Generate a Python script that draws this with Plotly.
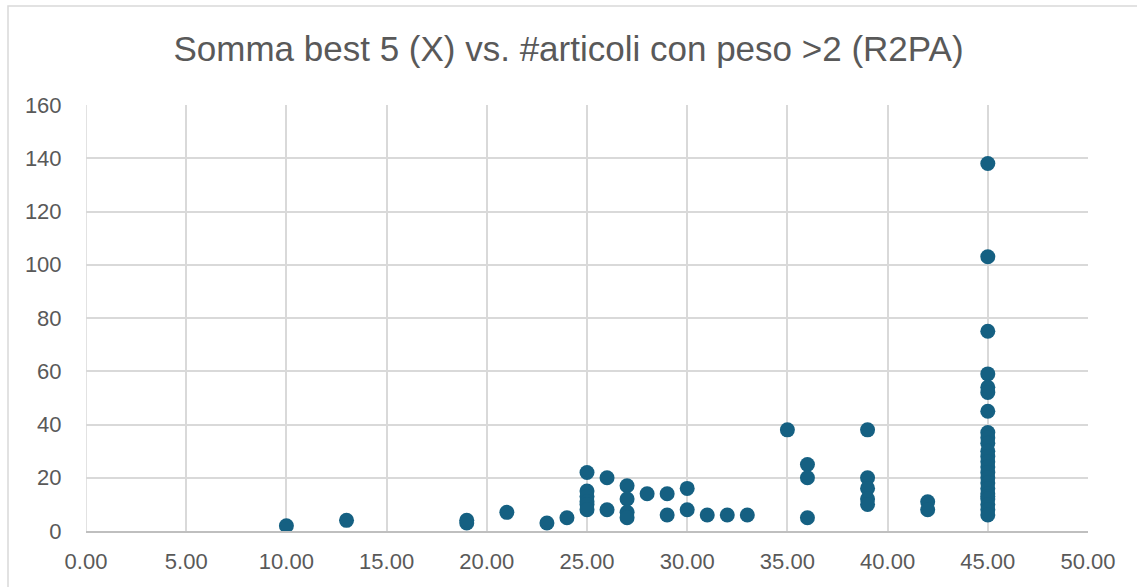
import plotly.graph_objects as go

# Data (x = Somma best 5, y = #articoli con peso >2)
x_values = [10, 13, 19, 19, 21, 23, 24,
            25, 25, 25, 25, 25, 25,
            26, 26,
            27, 27, 27, 27,
            28, 29, 29, 30, 30, 31, 32, 33,
            35, 36, 36, 36,
            39, 39, 39, 39, 39,
            42, 42] + [45] * 24
y_values = [2, 4, 3, 4, 7, 3, 5,
            22, 15, 13, 11, 10, 8,
            20, 8,
            17, 12, 7, 5,
            14, 14, 6, 16, 8, 6, 6, 6,
            38, 25, 20, 5,
            38, 20, 16, 12, 10,
            11, 8,
            138, 103, 75, 59, 54, 52, 45, 37, 35, 33, 30, 28, 26, 24, 22,
            20, 18, 16, 14, 13, 12, 10, 8, 6]

title_text = "Somma best 5 (X) vs. #articoli con peso >2 (R2PA)"
x_ticks = [0, 5, 10, 15, 20, 25, 30, 35, 40, 45, 50]
y_ticks = [0, 20, 40, 60, 80, 100, 120, 140, 160]

FONT = "Liberation Sans"
TXT = "#595959"
GRID = "#d9d9d9"

fig = go.Figure()
fig.add_trace(go.Scatter(
    x=x_values, y=y_values, mode="markers",
    marker=dict(size=15, color="#156082", line=dict(width=0)),
    hoverinfo="x+y", showlegend=False,
))

fig.update_layout(
    width=1137, height=587,
    margin=dict(l=86, r=49, t=105, b=56),
    paper_bgcolor="white", plot_bgcolor="white",
    title=dict(text=title_text, x=0.5, xanchor="center", y=1 - 49 / 587,
               yanchor="middle", font=dict(family=FONT, size=35, color=TXT)),
    font=dict(family=FONT, color=TXT),
    xaxis=dict(range=[0, 50], tickvals=x_ticks, tickformat=".2f",
               showgrid=True, gridcolor=GRID, gridwidth=1.5,
               zeroline=False, showline=True, linecolor="#bfbfbf", linewidth=2,
               ticks="outside", ticklen=10, tickcolor="rgba(0,0,0,0)",
               tickfont=dict(family=FONT, size=22, color=TXT), fixedrange=True),
    yaxis=dict(range=[0, 160], tickvals=y_ticks,
               showgrid=True, gridcolor=GRID, gridwidth=1.5,
               zeroline=False, showline=False,
               ticks="outside", ticklen=19, tickcolor="rgba(0,0,0,0)",
               tickfont=dict(family=FONT, size=22, color=TXT), fixedrange=True),
)

# chart frame like the Excel chart area border
pw = 1137 - 86 - 49
ph = 587 - 105 - 56
fig.add_shape(type="rect", xref="paper", yref="paper",
              x0=(8 - 86) / pw, x1=(1150 - 86) / pw,
              y0=(531 - 620) / ph, y1=(531 - 6) / ph,
              line=dict(color="#d9d9d9", width=1.5), fillcolor="rgba(0,0,0,0)",
              layer="below")
# vertical gridline at x=0 (plot boundary)
fig.add_shape(type="line", xref="x", yref="y", x0=0, x1=0, y0=0, y1=160,
              line=dict(color=GRID, width=1.5), layer="below")

fig.write_html("out.html",
               config={"displayModeBar": False},
               post_script="document.body.style.margin='0';document.body.style.overflow='hidden';")
